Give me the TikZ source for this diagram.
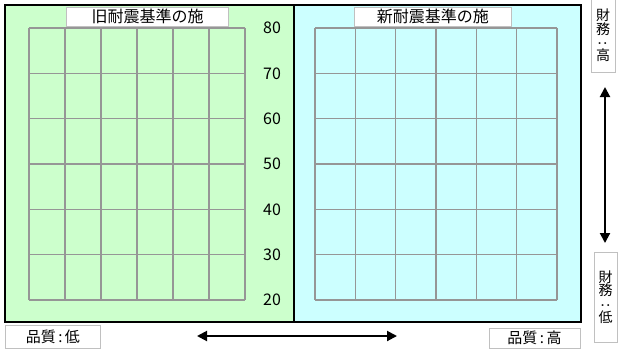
\documentclass[tikz,border=0pt]{standalone}
\usepackage{fontspec}
\setmainfont{Noto Sans CJK JP}
\usetikzlibrary{arrows.meta,positioning}
\definecolor{oldgreen}{HTML}{CCFFCC}
\definecolor{newcyan}{HTML}{CCFFFF}
\definecolor{gridgray}{HTML}{969696}
\definecolor{tagedge}{HTML}{C0C0C0}
\tikzset{
  >={Triangle[length=10pt,width=10pt]},
  panel/.style={draw=black,line width=1.2pt},
  cell/.style={draw=gridgray,line width=1.2pt},
  tag/.style={draw=tagedge,fill=white,line width=0.8pt,inner sep=0pt,align=center,font=\fontsize{15}{15}\selectfont},
  vtag/.style={tag,font=\fontsize{14}{13.4}\selectfont},
  scalelbl/.style={inner sep=0pt,font=\fontsize{16}{16}\selectfont},
  arrow/.style={<->,line width=2pt},
}
\begin{document}
\begin{tikzpicture}[x=1pt,y=-1pt]
			\useasboundingbox (0,0) rectangle (618,349);
			% panels
			\draw[panel,fill=oldgreen] (5,5) rectangle (294,322);
			\draw[panel,fill=newcyan] (294,5) rectangle (581,322);
			% grids
			\foreach \i in {0,...,6} {
				\draw[cell] ({29+36*\i},28) -- ({29+36*\i},300);
				\draw[cell] (29,{28+45.333*\i}) -- (245,{28+45.333*\i});
				\draw[cell] ({315+40.333*\i},28) -- ({315+40.333*\i},300);
				\draw[cell] (315,{28+45.333*\i}) -- (557,{28+45.333*\i});
			}
			\foreach \v [count=\i from 0] in {80,70,...,20}
				\node[scalelbl] (lbl\v) at (272,{28+45.333*\i}) {\v};
			% titles
			\node[tag,minimum width=161.6pt,minimum height=19pt,font=\fontsize{16}{16}\selectfont] (oldtitle) at (147.5,16.5) {旧耐震基準の施};
			\node[tag,minimum width=157.7pt,minimum height=19pt,font=\fontsize{16}{16}\selectfont] (newtitle) at (432.8,16.5) {新耐震基準の施};
			% quality / finance
			\node[tag,minimum width=95.7pt,minimum height=23pt] (quallow) at (52.9,336.5) {品質\,:\,低};
			\node[tag,minimum width=91pt,minimum height=20pt] (qualhigh) at (534.5,338) {品質\,:\,高};
			\node[vtag,minimum width=24pt,minimum height=73pt] (finhigh) at (603,35.5) {財\\務\\\rotatebox[origin=c]{90}{:}\\高};
			\node[vtag,minimum width=23pt,minimum height=90pt] (finlow) at (605.5,297) {財\\務\\\rotatebox[origin=c]{90}{:}\\低};
			\coordinate (qualL) at (197,336);
			\coordinate (qualR) at (397,336);
			\coordinate (finT) at (605,87);
			\coordinate (finB) at (605,243);
			\draw[arrow] (qualL) -- (qualR);
			\draw[arrow] (finT) -- (finB);
		\end{tikzpicture}
\end{document}
